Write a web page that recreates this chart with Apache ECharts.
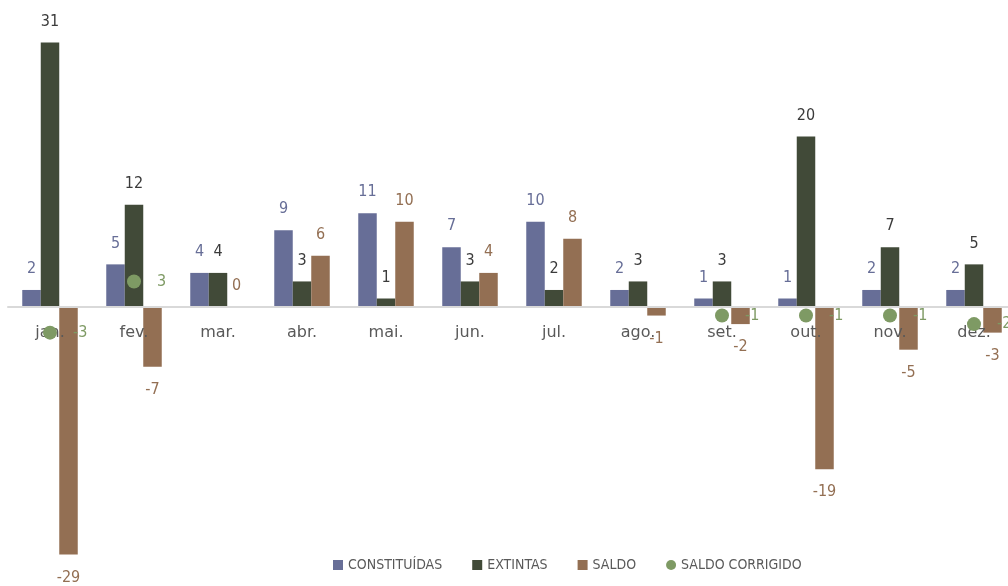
<!DOCTYPE html>
<html>
<head>
<meta charset="utf-8">
<script src="https://cdn.jsdelivr.net/npm/echarts@6/dist/echarts.min.js"></script>
<style>
  html, body { margin: 0; padding: 0; background: #ffffff; }
  #chart { width: 1008px; height: 586px; }
</style>
</head>
<body>
<div id="chart"></div>
<script>
// Monthly company counts
const months = ['jan.', 'fev.', 'mar.', 'abr.', 'mai.', 'jun.', 'jul.', 'ago.', 'set.', 'out.', 'nov.', 'dez.'];
const constituidas = [2, 5, 4, 9, 11, 7, 10, 2, 1, 1, 2, 2];
const extintas = [31, 12, 4, 3, 1, 3, 2, 3, 3, 20, 7, 5];
const saldo = [-29, -7, 0, 6, 10, 4, 8, -1, -2, -19, -5, -3];
const saldoCorrigido = [-3, 3, null, null, null, null, null, null, -1, -1, -1, -2];

const C_CONST = '#676e97';
const C_EXT = '#414a38';
const C_SALDO = '#936f53';
const C_CORR = '#7e9a64';

const labelFont = 'DejaVu Sans Condensed, DejaVu Sans, sans-serif';

const Y_MIN = -30;
const Y_MAX = 32;
const GRID_TOP = 34;
const GRID_HEIGHT = 529;
// distance from the bottom of the grid up to the zero line
const zeroOffset = GRID_HEIGHT * (0 - Y_MIN) / (Y_MAX - Y_MIN);

// Labels go above positive bars and below negative ones
function barData(values, color) {
  return values.map(v => ({
    value: v,
    label: {
      show: true,
      position: v < 0 ? 'bottom' : 'top',
      distance: v < 0 ? 15 : 13,
      color: color,
      fontSize: 16,
      fontFamily: labelFont
    }
  }));
}

const chart = echarts.init(document.getElementById('chart'), null, { renderer: 'canvas' });

chart.setOption({
  animation: false,
  backgroundColor: '#ffffff',
  grid: { left: 8, width: 1008, top: GRID_TOP, height: GRID_HEIGHT, containLabel: false, outerBoundsMode: 'none' },
  legend: {
    left: 333,
    top: 558,
    padding: 0,
    itemGap: 30,
    itemWidth: 10,
    itemHeight: 10,
    textStyle: { color: '#595959', fontSize: 14, fontFamily: 'DejaVu Sans Condensed, sans-serif' },
    data: [
      { name: 'CONSTITUÍDAS', icon: 'rect' },
      { name: 'EXTINTAS', icon: 'rect' },
      { name: 'SALDO', icon: 'rect' },
      { name: 'SALDO CORRIGIDO', icon: 'circle' }
    ]
  },
  xAxis: {
    type: 'category',
    data: months,
    z: 5,
    position: 'bottom',
    offset: -zeroOffset,
    axisLine: { show: true, onZero: false, lineStyle: { color: '#d9d9d9', width: 2 } },
    axisTick: { show: false },
    axisLabel: { color: '#595959', fontSize: 16, margin: 18, fontFamily: 'DejaVu Sans, sans-serif' },
    splitLine: { show: false }
  },
  yAxis: {
    type: 'value',
    min: Y_MIN,
    max: Y_MAX,
    show: false,
    splitLine: { show: false }
  },
  series: [
    {
      name: 'CONSTITUÍDAS',
      type: 'bar',
      barWidth: 18.5,
      barGap: '0%',
      itemStyle: { color: C_CONST },
      data: barData(constituidas, C_CONST)
    },
    {
      name: 'EXTINTAS',
      type: 'bar',
      barWidth: 18.5,
      barGap: '0%',
      itemStyle: { color: C_EXT },
      data: barData(extintas, '#3b3b3b')
    },
    {
      name: 'SALDO',
      type: 'bar',
      barWidth: 18.5,
      barGap: '0%',
      itemStyle: { color: C_SALDO },
      data: barData(saldo, C_SALDO)
    },
    {
      name: 'SALDO CORRIGIDO',
      type: 'scatter',
      z: 10,
      symbol: 'circle',
      symbolSize: 14,
      itemStyle: { color: C_CORR, opacity: 1 },
      label: {
        show: true,
        position: 'right',
        distance: 16,
        color: C_CORR,
        fontSize: 16,
        fontFamily: labelFont
      },
      data: saldoCorrigido.map(v => (v === null ? '-' : v))
    }
  ]
});
</script>
</body>
</html>
